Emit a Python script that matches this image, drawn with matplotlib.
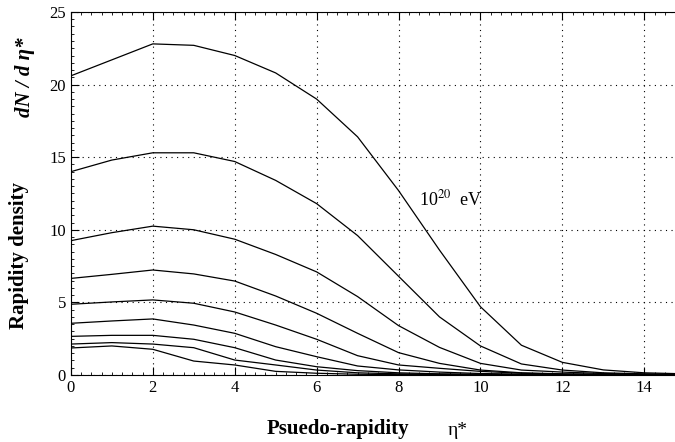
import matplotlib
matplotlib.use("Agg")
import matplotlib.pyplot as plt
from matplotlib.ticker import MultipleLocator

plt.rcParams["font.family"] = ["Liberation Serif", "DejaVu Serif"]
plt.rcParams["mathtext.fontset"] = "stix"

# pseudo-rapidity grid and rapidity density curves (top = 10^20 eV)
eta = [0, 1, 2, 3, 4, 5, 6, 7, 8, 9, 10, 11, 12, 13, 14, 15]
curves = [
    [20.6, 21.7, 22.8, 22.7, 22.0, 20.8, 19.0, 16.4, 12.7, 8.6, 4.7, 2.05, 0.87, 0.35, 0.15, 0.08],
    [14.0, 14.8, 15.3, 15.3, 14.7, 13.4, 11.8, 9.6, 6.8, 4.0, 2.0, 0.76, 0.34, 0.15, 0.08, 0.04],
    [9.25, 9.8, 10.25, 10.0, 9.35, 8.3, 7.1, 5.4, 3.4, 1.9, 0.8, 0.34, 0.2, 0.1, 0.05, 0.03],
    [6.65, 6.93, 7.23, 6.96, 6.47, 5.44, 4.25, 2.87, 1.54, 0.8, 0.34, 0.15, 0.08, 0.05, 0.03, 0.02],
    [4.87, 5.03, 5.17, 4.94, 4.34, 3.44, 2.46, 1.33, 0.69, 0.46, 0.25, 0.12, 0.06, 0.04, 0.02, 0.01],
    [3.56, 3.72, 3.86, 3.44, 2.87, 1.95, 1.26, 0.62, 0.35, 0.2, 0.1, 0.06, 0.04, 0.02, 0.01, 0.01],
    [2.66, 2.73, 2.73, 2.46, 1.88, 1.03, 0.57, 0.3, 0.15, 0.08, 0.05, 0.03, 0.02, 0.01, 0.01, 0.0],
    [2.13, 2.23, 2.13, 1.88, 1.03, 0.69, 0.34, 0.15, 0.08, 0.05, 0.03, 0.02, 0.01, 0.01, 0.0, 0.0],
    [1.86, 2.0, 1.77, 0.96, 0.69, 0.25, 0.12, 0.05, 0.03, 0.02, 0.01, 0.01, 0.0, 0.0, 0.0, 0.0],
]

fig = plt.figure(figsize=(6.75, 4.42), dpi=100)
ax = fig.add_axes([0.105, 0.1516, 0.895, 0.8214])

for c in curves:
    ax.plot(eta, c, color="black", lw=0.9)

ax.set_xlim(0, 14.75)
ax.set_ylim(0, 25)
ax.xaxis.set_major_locator(MultipleLocator(2))
ax.yaxis.set_major_locator(MultipleLocator(5))
ax.xaxis.set_minor_locator(MultipleLocator(0.25))
ax.yaxis.set_minor_locator(MultipleLocator(0.5))
ax.tick_params(which="both", direction="in", top=True, right=False, labelsize=12)
ax.tick_params(which="major", length=6)
ax.tick_params(which="minor", length=2.5)
ax.spines["right"].set_visible(False)
ax.grid(True, which="major", ls=(0, (1, 4)), color="black", lw=0.8)

ax.text(8.5, 11.7, r"10$^{20}$  eV", fontsize=13)

fig.text(0.028, 0.423, "Rapidity density", rotation=90, fontsize=15,
         fontweight="bold", ha="center", va="center")
fig.text(0.037, 0.825, "dN / d η*", rotation=90, fontsize=15,
         ha="center", va="center", fontstyle="italic", fontweight="bold")
fig.text(0.50, 0.03, "Psuedo-rapidity", fontsize=15, fontweight="bold",
         ha="center", va="center")
fig.text(0.678, 0.025, "η*", fontsize=14, ha="center", va="center")

fig.savefig("out.png", dpi=100)
